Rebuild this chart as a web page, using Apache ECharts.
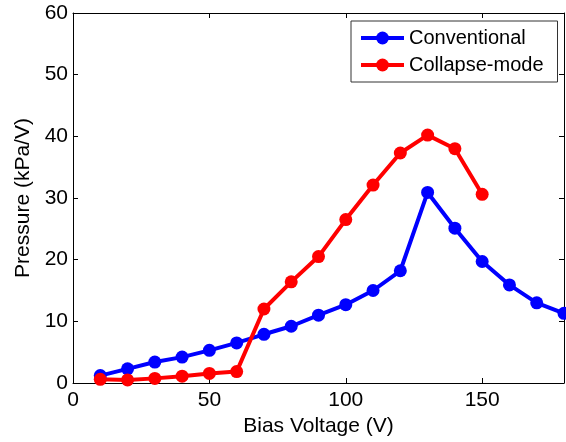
<!DOCTYPE html>
<html>
<head>
<meta charset="utf-8">
<script src="https://cdn.jsdelivr.net/npm/echarts@6/dist/echarts.min.js"></script>
<style>html,body{margin:0;padding:0;background:#fff;}#c{width:566px;height:442px;}</style>
</head>
<body>
<div id="c"></div>
<script>
var voltConv = [10,20,30,40,50,60,70,80,90,100,110,120,130,140,150,160,170,180];
var pressConv = [1.2,2.3,3.4,4.2,5.3,6.5,7.9,9.2,11.0,12.7,15.0,18.2,30.9,25.1,19.7,15.9,13.0,11.3];
var voltCollapse = [10,20,30,40,50,60,70,80,90,100,110,120,130,140,150];
var pressCollapse = [0.6,0.5,0.75,1.1,1.55,1.85,12.0,16.4,20.5,26.5,32.1,37.3,40.2,38.0,30.6];
var xTicks = {min:0, max:180, interval:50};
var yTicks = {min:0, max:60, interval:10};

function pairs(xs, ys){ return xs.map(function(x,i){ return [x, ys[i]]; }); }

var font = 'Liberation Sans, Arial, sans-serif';
var chart = echarts.init(document.getElementById('c'), null, {renderer:'canvas'});
var axisLine = {show:true, onZero:false, lineStyle:{color:'#000', width:1}};
var tick = {show:true, inside:true, length:5, lineStyle:{color:'#000', width:1}};
chart.setOption({
  animation:false,
  backgroundColor:'#fff',
  grid:{left:73, top:13, right:2, bottom:59, containLabel:false},
  legend:{
    orient:'vertical', left:351, top:21,
    padding:[7,14,7,8], itemGap:7, itemWidth:43, itemHeight:16,
    borderColor:'#333', borderWidth:1, backgroundColor:'#fff',
    lineStyle:{width:4},
    textStyle:{fontFamily:font, fontSize:20, color:'#000'},
    data:['Conventional','Collapse-mode']
  },
  xAxis:[{
    type:'value', min:xTicks.min, max:xTicks.max, interval:xTicks.interval,
    name:'Bias Voltage (V)', nameLocation:'middle', nameGap:31,
    nameTextStyle:{fontFamily:font, fontSize:21, color:'#000'},
    axisLine:axisLine, axisTick:tick, splitLine:{show:false},
    axisLabel:{fontFamily:font, fontSize:21, color:'#000', margin:7, showMaxLabel:false}
  },{
    type:'value', position:'top', min:xTicks.min, max:xTicks.max, interval:xTicks.interval,
    axisLine:axisLine, axisTick:tick, splitLine:{show:false}, axisLabel:{show:false}
  }],
  yAxis:[{
    type:'value', min:yTicks.min, max:yTicks.max, interval:yTicks.interval,
    name:'Pressure (kPa/V)', nameLocation:'middle', nameGap:39,
    nameTextStyle:{fontFamily:font, fontSize:21, color:'#000'},
    axisLine:axisLine, axisTick:tick, splitLine:{show:false},
    axisLabel:{fontFamily:font, fontSize:21, color:'#000', margin:5}
  },{
    type:'value', position:'right', min:yTicks.min, max:yTicks.max, interval:yTicks.interval,
    axisLine:axisLine, axisTick:tick, splitLine:{show:false}, axisLabel:{show:false}
  }],
  series:[{
    name:'Conventional', type:'line', xAxisIndex:0, yAxisIndex:0,
    data:pairs(voltConv, pressConv),
    symbol:'circle', symbolSize:13, showAllSymbol:true,
    lineStyle:{color:'#0000ff', width:4}, itemStyle:{color:'#0000ff'}
  },{
    name:'Collapse-mode', type:'line', xAxisIndex:0, yAxisIndex:0,
    data:pairs(voltCollapse, pressCollapse),
    symbol:'circle', symbolSize:13, showAllSymbol:true,
    lineStyle:{color:'#ff0000', width:4}, itemStyle:{color:'#ff0000'}
  }]
});
</script>
</body>
</html>
